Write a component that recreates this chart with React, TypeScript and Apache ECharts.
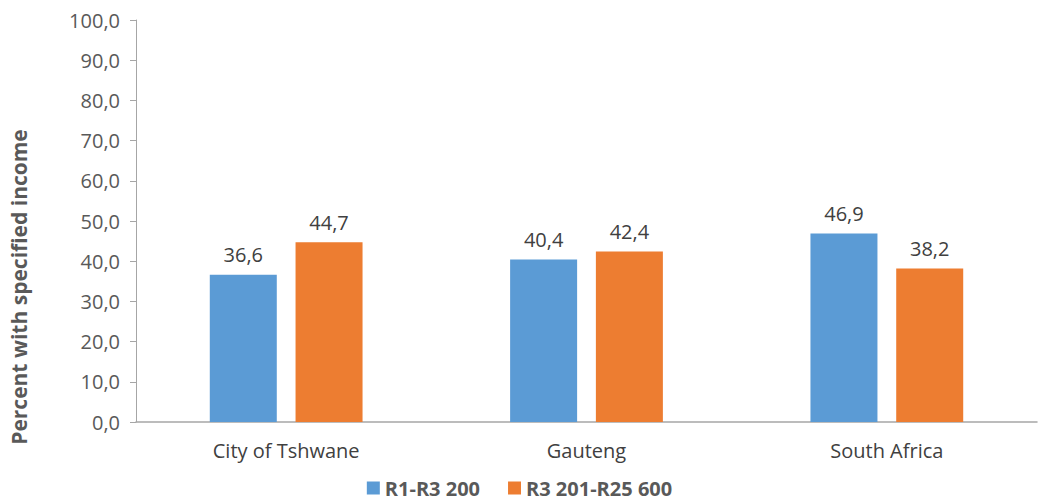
import React, { useEffect, useRef } from "react";
import * as echarts from "echarts";

const categories = ["City of Tshwane", "Gauteng", "South Africa"];
const seriesNames = ["R1-R3 200", "R3 201-R25 600"];
const lowIncome = [36.6, 40.4, 46.9];
const midIncome = [44.7, 42.4, 38.2];
const colors = ["#5b9bd5", "#ed7d31"];
const yTitle = "Percent with specified income";

const fmt = (v: number) => v.toFixed(1).replace(".", ",");
const FONT = "'Open Sans', 'Noto Sans', sans-serif";

export default function App() {
  const ref = useRef<HTMLDivElement>(null);
  useEffect(() => {
    if (!ref.current) return;
    const chart = echarts.init(ref.current, undefined, { renderer: "svg" });
    const labelCfg = {
      show: true,
      position: "top" as const,
      distance: 10,
      color: "#404040",
      fontSize: 20,
      fontFamily: FONT,
      formatter: (p: any) => fmt(p.value),
    };
    chart.setOption({
      animation: false,
      textStyle: { fontFamily: FONT },
      grid: { left: 136, right: 2, top: 20, bottom: 81 },
      legend: {
        bottom: 0,
        left: "center",
        itemWidth: 13,
        itemHeight: 13,
        itemGap: 28,
        icon: "rect",
        textStyle: { color: "#595959", fontSize: 20, fontWeight: "bold", fontFamily: FONT },
        data: seriesNames,
      },
      xAxis: {
        type: "category",
        data: categories,
        axisLine: { lineStyle: { color: "#a6a6a6", width: 1.5 } },
        axisTick: { show: false },
        axisLabel: { color: "#404040", fontSize: 20, margin: 18, fontFamily: FONT },
      },
      yAxis: {
        type: "value",
        min: 0,
        max: 100,
        interval: 10,
        axisLine: { show: true, lineStyle: { color: "#a6a6a6" } },
        axisTick: { show: true, length: 6, lineStyle: { color: "#a6a6a6" } },
        splitLine: { show: false },
        axisLabel: { color: "#595959", fontSize: 20, margin: 16, fontFamily: FONT, formatter: (v: number) => fmt(v) },
      },
      graphic: [
        {
          type: "text",
          x: 19,
          y: 287,
          rotation: Math.PI / 2,
          style: {
            text: yTitle,
            fill: "#595959",
            font: `bold 21px ${FONT}`,
            align: "center",
            verticalAlign: "middle",
          },
        },
      ],
      series: [
        {
          name: seriesNames[0],
          type: "bar",
          data: lowIncome,
          itemStyle: { color: colors[0] },
          barWidth: 67,
          barGap: "28%",
          label: labelCfg,
        },
        {
          name: seriesNames[1],
          type: "bar",
          data: midIncome,
          itemStyle: { color: colors[1] },
          barWidth: 67,
          barGap: "28%",
          label: labelCfg,
        },
      ],
    });
    return () => chart.dispose();
  }, []);
  return <div ref={ref} style={{ width: 1039, height: 503, position: "absolute", left: 0, top: 0 }} />;
}
